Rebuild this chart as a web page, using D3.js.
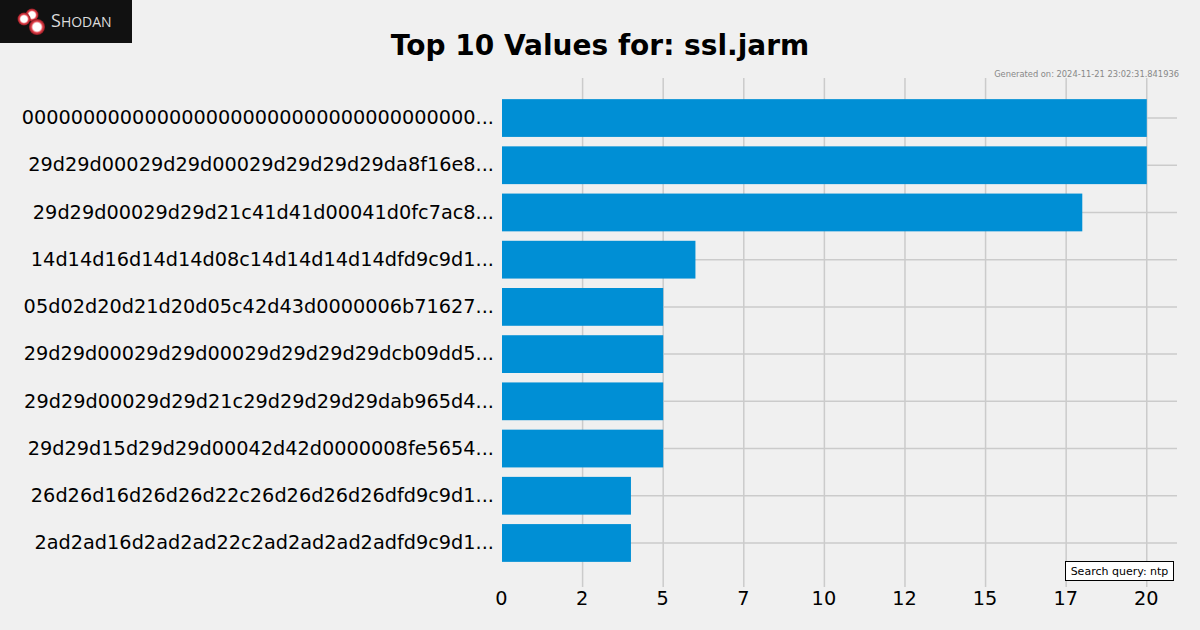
<!DOCTYPE html>
<html>
<head>
<meta charset="utf-8">
<script src="https://cdn.jsdelivr.net/npm/d3@7"></script>
<style>
  body { margin: 0; background: #f0f0f0; }
  svg { display: block; font-family: "DejaVu Sans", sans-serif; }
</style>
</head>
<body>
<div id="chart"></div>
<script>
const labels = [
  "0000000000000000000000000000000000000...",
  "29d29d00029d29d00029d29d29d29da8f16e8...",
  "29d29d00029d29d21c41d41d00041d0fc7ac8...",
  "14d14d16d14d14d08c14d14d14d14dfd9c9d1...",
  "05d02d20d21d20d05c42d43d0000006b71627...",
  "29d29d00029d29d00029d29d29d29dcb09dd5...",
  "29d29d00029d29d21c29d29d29d29dab965d4...",
  "29d29d15d29d29d00042d42d0000008fe5654...",
  "26d26d16d26d26d22c26d26d26d26dfd9c9d1...",
  "2ad2ad16d2ad2ad22c2ad2ad2ad2adfd9c9d1..."
];
const counts = [20, 20, 18, 6, 5, 5, 5, 5, 4, 4];
const xTicks = [0, 2.5, 5, 7.5, 10, 12.5, 15, 17.5, 20];

const width = 1200, height = 630;
const margin = {top: 76, right: 21, bottom: 45, left: 502};
const gridTop = 78, gridBottom = 587;

const svg = d3.select("#chart").append("svg")
  .attr("width", width).attr("height", height);

svg.append("rect").attr("width", width).attr("height", height).attr("fill", "#f0f0f0");

const x = d3.scaleLinear().domain([0, 21]).range([margin.left, width - margin.right]);
const y = d3.scaleBand().domain(labels).range([margin.top, height - margin.bottom])
  .paddingInner(0.2).paddingOuter(0.49);

// grid
svg.append("g").selectAll("line").data(xTicks.filter(d => d > 0)).join("line")
  .attr("x1", d => x(d)).attr("x2", d => x(d))
  .attr("y1", gridTop).attr("y2", gridBottom)
  .attr("stroke", "#cbcbcb").attr("stroke-width", 1.5);
svg.append("g").selectAll("line").data(labels).join("line")
  .attr("x1", margin.left).attr("x2", width - 23)
  .attr("y1", d => y(d) + y.bandwidth() / 2).attr("y2", d => y(d) + y.bandwidth() / 2)
  .attr("stroke", "#cbcbcb").attr("stroke-width", 1.5);

// bars
svg.append("g").selectAll("rect").data(labels).join("rect")
  .attr("x", x(0))
  .attr("y", d => y(d))
  .attr("width", (d, i) => x(counts[i]) - x(0))
  .attr("height", y.bandwidth())
  .attr("fill", "#008fd5");

// y labels
const yAxis = d3.axisLeft(y).tickSize(0).tickPadding(8);
svg.append("g").attr("transform", `translate(${margin.left},0)`).call(yAxis)
  .call(g => g.select(".domain").remove())
  .selectAll("text").attr("font-size", 19.3).attr("fill", "#000")
  .attr("font-family", "DejaVu Sans");

// x labels
const xAxis = d3.axisBottom(x).tickValues(xTicks).tickSize(0).tickPadding(4)
  .tickFormat(d => String(Math.floor(d)));
svg.append("g").attr("transform", `translate(-1,${gridBottom})`).call(xAxis)
  .call(g => g.select(".domain").remove())
  .selectAll("text").attr("font-size", 19.3).attr("fill", "#000")
  .attr("font-family", "DejaVu Sans");

// title
svg.append("text").attr("x", 600).attr("y", 55).attr("text-anchor", "middle")
  .attr("font-size", 28).attr("font-weight", "bold").attr("fill", "#000")
  .text("Top 10 Values for: ssl.jarm");

svg.append("text").attr("x", 1179).attr("y", 77).attr("text-anchor", "end")
  .attr("font-size", 8.3).attr("fill", "#888")
  .text("Generated on: 2024-11-21 23:02:31.841936");

// search query box
const qb = svg.append("g");
qb.append("rect").attr("x", 1065.5).attr("y", 561.5).attr("width", 108).attr("height", 19)
  .attr("fill", "#fff").attr("stroke", "#000").attr("stroke-width", 1);
qb.append("text").attr("x", 1119.5).attr("y", 575).attr("text-anchor", "middle")
  .attr("font-size", 11).attr("fill", "#000").text("Search query: ntp");

// logo
const logo = svg.append("g");
logo.append("rect").attr("width", 132).attr("height", 43).attr("fill", "#111");
const grad = svg.append("defs").append("radialGradient").attr("id", "dot");
grad.append("stop").attr("offset", "0%").attr("stop-color", "#fff");
grad.append("stop").attr("offset", "50%").attr("stop-color", "#fff");
grad.append("stop").attr("offset", "72%").attr("stop-color", "#e0404a");
grad.append("stop").attr("offset", "100%").attr("stop-color", "#8a1820");
[[32, 15, 6.5], [24, 19, 6.5], [37, 27, 8]].forEach(([cx, cy, r]) => {
  logo.append("circle").attr("cx", cx).attr("cy", cy).attr("r", r).attr("fill", "url(#dot)");
});
const lt = logo.append("text").attr("x", 51).attr("y", 27).attr("fill", "#ddd")
  .attr("font-family", "Open Sans, DejaVu Sans, sans-serif");
lt.append("tspan").attr("font-size", 18).text("S");
lt.append("tspan").attr("font-size", 14).text("HODAN");
</script>
</body>
</html>
